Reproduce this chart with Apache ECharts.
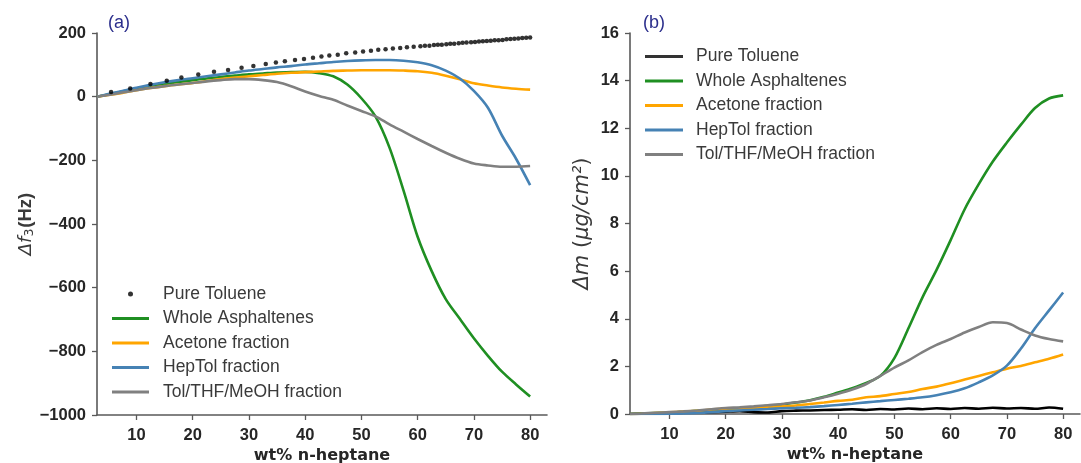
<!DOCTYPE html>
<html>
<head>
<meta charset="utf-8">
<script src="https://cdn.jsdelivr.net/npm/echarts@6/dist/echarts.min.js"></script>
<style>
html,body{margin:0;padding:0;background:#fff;}
#chart{width:1081px;height:463px;}
</style>
</head>
<body>
<div id="chart"></div>
<script>
// ---- Data ----
const seriesNames = ['Pure Toluene', 'Whole Asphaltenes', 'Acetone fraction', 'HepTol fraction', 'Tol/THF/MeOH fraction'];
const xTicks = [10, 20, 30, 40, 50, 60, 70, 80];

// Panel (a): frequency shift Δf3 (Hz)
const tolX = [5.5, 8.9, 12.5, 15.4, 18, 21, 23.8, 26.3, 28.7, 30.8, 33, 34.8, 36.4, 38.2, 39.8, 41.4, 42.9, 44.3, 45.8, 47.3, 48.9, 50.3, 51.7, 53, 54.3, 55.6, 56.9, 58.1, 59.3, 60.5, 61.3, 62.1, 62.9, 63.6, 64.3, 65.1, 65.8, 66.5, 67.3, 68, 68.7, 69.5, 70.2, 70.9, 71.6, 72.3, 73, 73.7, 74.4, 75.1, 75.8, 76.5, 77.2, 77.9, 78.6, 79.3, 80];
const tolY = [15, 26, 40, 50, 60, 70, 78, 84, 91, 96, 103, 107, 111, 115, 118, 122, 126, 129, 132, 136, 139, 142, 144, 147, 149, 151, 153, 155, 157, 158, 160, 160, 162, 163, 163, 165, 166, 166, 168, 169, 170, 171, 172, 173, 174, 175, 176, 177, 177, 178, 180, 181, 182, 183, 184, 185, 186];

const aX = [3, 5, 7.5, 10, 12.5, 15, 17.5, 20, 22.5, 25, 27.5, 30, 32.5, 35, 37.5, 40, 42.5, 45, 47.5, 50, 52.5, 55, 57.5, 60, 62.5, 65, 67.5, 70, 72.5, 75, 77.5, 80];
const aWhole   = [0, 7, 16, 24, 32, 39, 46, 52, 57, 62, 66, 70, 73, 76, 77, 78, 74, 64, 38, -5, -62, -160, -295, -440, -548, -636, -698, -759, -814, -864, -904, -942];
const aAcetone = [0, 5, 12, 20, 27, 33, 38, 43, 49, 55, 60, 64, 68, 72, 75, 77, 79, 81, 82, 83, 83, 83, 82, 80, 75, 66, 55, 42, 35, 29, 25, 22];
const aHepTol  = [0, 8, 18, 28, 37, 45, 52, 58, 64, 70, 76, 82, 87, 92, 96, 101, 105, 109, 112, 114, 115, 115, 113, 108, 99, 82, 57, 18, -35, -122, -195, -278];
const aTolTHF  = [0, 5, 13, 20, 27, 33, 38, 43, 48, 52, 55, 55, 52, 46, 33, 16, 2, -10, -28, -45, -62, -87, -110, -133, -155, -176, -195, -210, -216, -220, -220, -218];

// Panel (b): deposited mass Δm (µg/cm²)
const bX = [3, 5, 7.5, 10, 12.5, 15, 17.5, 20, 22.5, 25, 27.5, 30, 32.5, 35, 37.5, 40, 42.5, 45, 47.5, 50, 52.5, 55, 57.5, 60, 62.5, 65, 67.5, 70, 72.5, 75, 77.5, 80];
const bToluene = [0, 0.01, 0.02, 0.03, 0.05, 0.06, 0.08, 0.1, 0.12, 0.08, 0.06, 0.12, 0.14, 0.15, 0.17, 0.18, 0.2, 0.17, 0.21, 0.19, 0.23, 0.2, 0.24, 0.21, 0.25, 0.22, 0.26, 0.23, 0.25, 0.22, 0.27, 0.22];
const bWhole   = [0, 0.02, 0.04, 0.06, 0.09, 0.13, 0.17, 0.21, 0.25, 0.29, 0.34, 0.4, 0.48, 0.58, 0.72, 0.9, 1.08, 1.3, 1.6, 2.35, 3.6, 4.9, 6.05, 7.3, 8.6, 9.65, 10.6, 11.4, 12.15, 12.85, 13.25, 13.38];
const bAcetone = [0, 0.01, 0.04, 0.07, 0.1, 0.13, 0.19, 0.22, 0.24, 0.26, 0.29, 0.32, 0.36, 0.42, 0.48, 0.55, 0.6, 0.7, 0.75, 0.84, 0.92, 1.05, 1.15, 1.29, 1.45, 1.6, 1.75, 1.9, 2.02, 2.17, 2.32, 2.5];
const bHepTol  = [0, 0, 0, 0.01, 0.02, 0.04, 0.08, 0.12, 0.15, 0.18, 0.21, 0.24, 0.26, 0.29, 0.33, 0.38, 0.43, 0.49, 0.54, 0.59, 0.64, 0.7, 0.79, 0.91, 1.08, 1.33, 1.62, 2.03, 2.75, 3.6, 4.35, 5.1];
const bTolTHF  = [0, 0.02, 0.05, 0.08, 0.11, 0.15, 0.2, 0.25, 0.28, 0.32, 0.37, 0.42, 0.49, 0.57, 0.7, 0.85, 1.03, 1.26, 1.6, 1.95, 2.25, 2.6, 2.9, 3.15, 3.42, 3.65, 3.85, 3.82, 3.55, 3.3, 3.15, 3.05];

// ---- Styling ----
const colors = {
  'Pure Toluene': '#000000',
  'Whole Asphaltenes': '#1f8f22',
  'Acetone fraction': '#ffa500',
  'HepTol fraction': '#4682b4',
  'Tol/THF/MeOH fraction': '#808080'
};
const FONT = '"Liberation Sans", Arial, Helvetica, sans-serif';
const MATH = '"DejaVu Sans", "Liberation Sans", sans-serif';
const axisColor = '#595959';
const labelColor = '#262626';
const titleColor = '#3a3a3a';
const LINE_ICON = 'path://M0,0L37,0L37,3L0,3Z';

function pairs(xs, ys) { return xs.map((x, i) => [x, ys[i]]); }
function minusFmt(v) { return v < 0 ? '\u2212' + Math.abs(v) : String(v); }

function xAxisCfg(gridIndex) {
  return {
    type: 'value', gridIndex: gridIndex, min: 3, max: 83,
    axisLine: { show: true, onZero: false, lineStyle: { color: axisColor, width: 1.6 } },
    axisTick: { show: true, length: 5, customValues: xTicks, lineStyle: { color: axisColor, width: 1.3 } },
    axisLabel: { customValues: xTicks, fontFamily: FONT, fontSize: 16.5, fontWeight: 'bold', color: labelColor, margin: 12 },
    splitLine: { show: false },
    name: 'wt% n-heptane', nameLocation: 'middle', nameGap: 33, nameMoveOverlap: false,
    nameTextStyle: { fontFamily: MATH, fontSize: 16, fontWeight: 'bold', color: labelColor }
  };
}

function lineSeries(name, xs, ys, idx) {
  return {
    type: 'line', name: name, xAxisIndex: idx, yAxisIndex: idx,
    data: pairs(xs, ys), smooth: 0.3, symbol: 'none',
    lineStyle: { color: colors[name], width: 2.6 }, itemStyle: { color: colors[name] }
  };
}

const legendText = { fontFamily: FONT, fontSize: 17.5, color: '#3a3a3a', lineHeight: 17 };

const option = {
  animation: false,
  backgroundColor: '#ffffff',
  textStyle: { fontFamily: FONT },
  title: [
    { text: '(a)', left: 108, top: 14, padding: 0, textStyle: { fontFamily: FONT, fontSize: 18, fontWeight: 'normal', color: '#2b2e8c' } },
    { text: '(b)', left: 643, top: 14, padding: 0, textStyle: { fontFamily: FONT, fontSize: 18, fontWeight: 'normal', color: '#2b2e8c' } }
  ],
  grid: [
    { left: 97, top: 33, width: 450, height: 382, outerBoundsMode: 'none', containLabel: false },
    { left: 630, top: 33, width: 450, height: 381, outerBoundsMode: 'none', containLabel: false }
  ],
  legend: [
    {
      left: 112, top: 285, padding: 0, orient: 'vertical', itemWidth: 37, itemHeight: 5, itemGap: 6.5,
      data: seriesNames.map((n, i) => i === 0 ? { name: n } : { name: n, icon: LINE_ICON }), selectedMode: false,
      textStyle: Object.assign({ padding: [0, 0, 0, 9] }, legendText)
    },
    {
      left: 645, top: 47.5, padding: 0, orient: 'vertical', itemWidth: 38, itemHeight: 3, itemGap: 6.5,
      data: seriesNames.map(n => ({ name: n, icon: 'rect' })), selectedMode: false,
      textStyle: Object.assign({ padding: [0, 0, 0, 8] }, legendText)
    }
  ],
  xAxis: [xAxisCfg(0), xAxisCfg(1)],
  yAxis: [
    {
      type: 'value', gridIndex: 0, min: -1000, max: 200, interval: 200,
      axisLine: { show: true, onZero: false, lineStyle: { color: axisColor, width: 1.6 } },
      axisTick: { show: true, length: 5, lineStyle: { color: axisColor, width: 1.3 } },
      axisLabel: { formatter: minusFmt, fontFamily: FONT, fontSize: 16.5, fontWeight: 'bold', color: labelColor, margin: 11 },
      splitLine: { show: false },
      name: '{i|\u0394f}{s|3}{b|(Hz)}', nameLocation: 'middle', nameGap: 61, nameRotate: 90,
      nameTextStyle: {
        color: titleColor,
        rich: {
          i: { fontFamily: MATH, fontSize: 18, fontStyle: 'italic', color: titleColor, lineHeight: 24, verticalAlign: 'bottom' },
          s: { fontFamily: MATH, fontSize: 12.5, color: titleColor, lineHeight: 24, verticalAlign: 'bottom', padding: [0, 1, 0, 0] },
          b: { fontFamily: FONT, fontSize: 18.5, fontWeight: 'bold', color: titleColor, lineHeight: 24, verticalAlign: 'bottom' }
        }
      }
    },
    {
      type: 'value', gridIndex: 1, min: 0, max: 16, interval: 2,
      axisLine: { show: true, onZero: false, lineStyle: { color: axisColor, width: 1.6 } },
      axisTick: { show: true, length: 5, lineStyle: { color: axisColor, width: 1.3 } },
      axisLabel: { fontFamily: FONT, fontSize: 16.5, fontWeight: 'bold', color: labelColor, margin: 11 },
      splitLine: { show: false },
      name: '{i|\u0394m}{n| (}{i|\u03bcg/cm\u00b2}{n|)}', nameLocation: 'middle', nameGap: 35, nameRotate: 90,
      nameTextStyle: {
        color: titleColor,
        rich: {
          i: { fontFamily: MATH, fontSize: 21, fontStyle: 'italic', color: titleColor, lineHeight: 24 },
          n: { fontFamily: MATH, fontSize: 21, color: titleColor, lineHeight: 24 }
        }
      }
    }
  ],
  series: [
    {
      type: 'scatter', name: 'Pure Toluene', xAxisIndex: 0, yAxisIndex: 0,
      data: pairs(tolX, tolY), symbol: 'circle', symbolSize: 4.5, z: 5,
      itemStyle: { color: '#000000' }
    },
    lineSeries('Whole Asphaltenes', aX, aWhole, 0),
    lineSeries('Acetone fraction', aX, aAcetone, 0),
    lineSeries('HepTol fraction', aX, aHepTol, 0),
    lineSeries('Tol/THF/MeOH fraction', aX, aTolTHF, 0),
    lineSeries('Pure Toluene', bX, bToluene, 1),
    lineSeries('Whole Asphaltenes', bX, bWhole, 1),
    lineSeries('Acetone fraction', bX, bAcetone, 1),
    lineSeries('HepTol fraction', bX, bHepTol, 1),
    lineSeries('Tol/THF/MeOH fraction', bX, bTolTHF, 1)
  ]
};

const chart = echarts.init(document.getElementById('chart'), null, { renderer: 'canvas' });
chart.setOption(option);
</script>
</body>
</html>
